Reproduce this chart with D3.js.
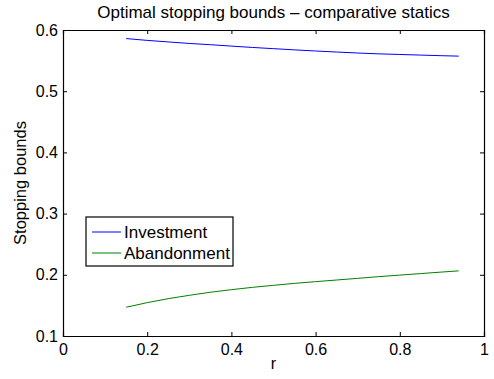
<!DOCTYPE html>
<html>
<head>
<meta charset="utf-8">
<script src="https://cdn.jsdelivr.net/npm/d3@7"></script>
<style>
  body { margin: 0; background: #fff; }
  svg text { font-family: "Liberation Sans", Arial, Helvetica, sans-serif; fill: #000; }
</style>
</head>
<body>
<svg id="chart" width="494" height="379"></svg>
<script>
// r values and the two stopping bounds
const rValues = [0.15, 0.2, 0.25, 0.3, 0.35, 0.4, 0.45, 0.5, 0.55, 0.6, 0.65, 0.7, 0.75, 0.8, 0.85, 0.9, 0.94];
const investment = [0.586, 0.583, 0.5805, 0.578, 0.576, 0.5737, 0.5715, 0.5695, 0.5675, 0.5657, 0.564, 0.5624, 0.561, 0.56, 0.559, 0.558, 0.5573];
const abandonment = [0.147, 0.1545, 0.161, 0.1665, 0.1715, 0.1757, 0.1795, 0.1828, 0.186, 0.1888, 0.1915, 0.1942, 0.197, 0.1995, 0.202, 0.2045, 0.2064];
const xTicks = [0, 0.2, 0.4, 0.6, 0.8, 1];
const yTicks = [0.1, 0.2, 0.3, 0.4, 0.5, 0.6];
const seriesNames = ["Investment", "Abandonment"];
const seriesColors = ["#0000ff", "#008000"];

const plotLeft = 63, plotRight = 484, plotTop = 30, plotBottom = 336;

const xScale = d3.scaleLinear().domain([0, 1]).range([plotLeft, plotRight]);
const yScale = d3.scaleLinear().domain([0.1, 0.6]).range([plotBottom, plotTop]);

const chart = d3.select("#chart");

// axes (MATLAB style box with inward ticks)
const tickFmt = (d) => d3.format("")(+d.toFixed(1));
const tickFont = "16px";

const xAxis = chart.append("g")
  .attr("transform", `translate(0, ${plotBottom})`)
  .call(d3.axisBottom(xScale).tickValues(xTicks).tickSize(-4).tickPadding(8).tickFormat(tickFmt));
const xTop = chart.append("g")
  .attr("transform", `translate(0, ${plotTop})`)
  .call(d3.axisTop(xScale).tickValues(xTicks).tickSize(-4).tickFormat(""));
const yAxis = chart.append("g")
  .attr("transform", `translate(${plotLeft}, 0)`)
  .call(d3.axisLeft(yScale).tickValues(yTicks).tickSize(-4).tickPadding(5).tickFormat(tickFmt));
const yRight = chart.append("g")
  .attr("transform", `translate(${plotRight}, 0)`)
  .call(d3.axisRight(yScale).tickValues(yTicks).tickSize(-4).tickFormat(""));

[xAxis, xTop, yAxis, yRight].forEach((g) => {
  g.select(".domain").attr("stroke", "#000").attr("stroke-width", 1.2);
  g.selectAll(".tick line").attr("stroke", "#000");
  g.selectAll("text").style("font-size", tickFont).attr("font-family", null);
});

// lines
const line = d3.line()
  .x((d, i) => xScale(rValues[i]))
  .y((d) => yScale(d))
  .curve(d3.curveMonotoneX);

[investment, abandonment].forEach((vals, i) => {
  chart.append("path")
    .datum(vals)
    .attr("fill", "none")
    .attr("stroke", seriesColors[i])
    .attr("stroke-width", 1)
    .attr("d", line);
});

// title and labels
chart.append("text")
  .attr("x", (plotLeft + plotRight) / 2)
  .attr("y", 18)
  .attr("text-anchor", "middle")
  .style("font-size", "17px")
  .text("Optimal stopping bounds \u2013 comparative statics");

chart.append("text")
  .attr("x", xScale(0.5))
  .attr("y", 369)
  .attr("text-anchor", "middle")
  .style("font-size", tickFont)
  .text("r");

chart.append("text")
  .attr("transform", `translate(26, ${(plotTop + plotBottom) / 2}) rotate(-90)`)
  .attr("text-anchor", "middle")
  .style("font-size", "16.5px")
  .text("Stopping bounds");

// legend
const legend = chart.append("g").attr("transform", "translate(86, 217)");
legend.append("rect")
  .attr("width", 147)
  .attr("height", 49)
  .attr("fill", "#fff")
  .attr("stroke", "#000")
  .attr("stroke-width", 1.2);

seriesNames.forEach((name, i) => {
  const y = 15 + i * 21;
  legend.append("line")
    .attr("x1", 6).attr("x2", 35)
    .attr("y1", y).attr("y2", y)
    .attr("stroke", seriesColors[i]);
  legend.append("text")
    .attr("x", 38)
    .attr("y", y + 6)
    .style("font-size", "17px")
    .text(name);
});
</script>
</body>
</html>
